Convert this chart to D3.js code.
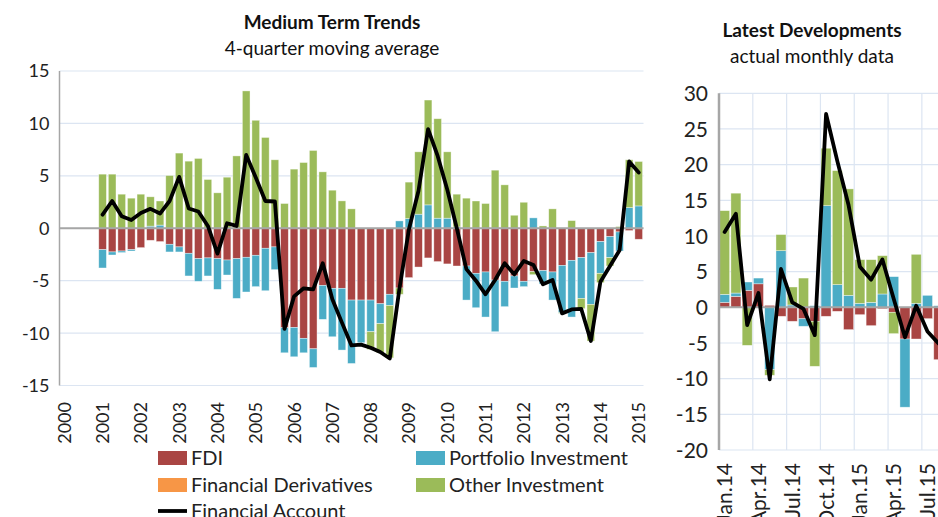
<!DOCTYPE html>
<html>
<head>
<meta charset="utf-8">
<script src="https://cdn.jsdelivr.net/npm/d3@7"></script>
<style>
    body { margin: 0; background: #fff; }
    svg { display: block; font-family: Lato, "Open Sans", sans-serif; }
</style>
</head>
<body>
<svg id="chart" width="938" height="517"></svg>
<script>
"use strict";

const SERIES = ["FDI", "Portfolio Investment", "Financial Derivatives", "Other Investment"];
const COLORS = ["#A94543", "#4BACC6", "#F79646", "#9BBB59"];
const LINE_NAME = "Financial Account";

const GRID_COLOR = "#DCE5F2";
const AXIS_COLOR = "#A6A6A6";
const LINE_WIDTH = 3.8;

// ---- Medium term trends: quarterly, 4-quarter moving average ----
const quarters = [
    "2000Q1", "2000Q2", "2000Q3", "2000Q4", "2001Q1", "2001Q2", "2001Q3", "2001Q4",
    "2002Q1", "2002Q2", "2002Q3", "2002Q4", "2003Q1", "2003Q2", "2003Q3", "2003Q4",
    "2004Q1", "2004Q2", "2004Q3", "2004Q4", "2005Q1", "2005Q2", "2005Q3", "2005Q4",
    "2006Q1", "2006Q2", "2006Q3", "2006Q4", "2007Q1", "2007Q2", "2007Q3", "2007Q4",
    "2008Q1", "2008Q2", "2008Q3", "2008Q4", "2009Q1", "2009Q2", "2009Q3", "2009Q4",
    "2010Q1", "2010Q2", "2010Q3", "2010Q4", "2011Q1", "2011Q2", "2011Q3", "2011Q4",
    "2012Q1", "2012Q2", "2012Q3", "2012Q4", "2013Q1", "2013Q2", "2013Q3", "2013Q4",
    "2014Q1", "2014Q2", "2014Q3", "2014Q4", "2015Q1"
];
const yearLabels = ["2000", "2001", "2002", "2003", "2004", "2005", "2006", "2007",
    "2008", "2009", "2010", "2011", "2012", "2013", "2014", "2015"];
const quarterTicks = [-15, -10, -5, 0, 5, 10, 15];

// values from 2001Q1 to 2015Q1
const fdiQ = [-2.04, -2.26, -2.17, -2.04, -1.85, -1.15, -1.27, -1.53, -1.78, -2.39, -2.9, -2.83,
    -2.9, -3.03, -2.9, -2.77, -2.58, -1.91, -1.78, -9.49, -9.46, -10.5, -11.5, -5.45,
    -5.73, -5.73, -6.85, -6.85, -6.85, -7.2, -6.3, -5.7, -4.71, -3.7, -2.83, -3.18,
    -3.4, -3.6, -3.6, -4.3, -4.17, -4.94, -5.06, -4.55, -5.06, -4.14, -4.04, -4.17,
    -3.54, -3.06, -2.8, -2.33, -1.27, -0.8, -0.35, -0.22, -1.05];
const portfolioQ = [-1.75, -0.29, -0.15, -0.13, 0, 0.2, 0.3, -0.73, -0.48, -2.16, -2.16, -1.72,
    -2.93, -1.43, -3.79, -3.31, -2.99, -4.05, -2.17, -2.39, -2.8, -1.38, -1.78, -3.24,
    -4.62, -5.89, -6.05, -4.07, -3.02, -1.9, -1.06, 0.7, 0.92, 1.34, 2.23, 0.96,
    0.96, 0.13, -3.25, -3.28, -4.3, -4.93, -2.42, -1.15, -0.51, 0.99, -1.28, -2.68,
    -4.52, -5.41, -3.89, -4.93, -3.03, -2.0, -1.82, 1.97, 2.13];
const derivativesQ = [0, 0, 0, 0, 0, 0, 0, 0, 0, 0, 0, 0, 0, 0, 0, 0, 0, 0, 0, 0, 0, 0, 0, 0,
    0, 0, 0, 0, 0, 0, 0, 0, 0, 0, 0, 0, 0, 0, 0, 0, 0, 0, 0, 0, 0, 0, 0, 0, 0, 0, 0, 0,
    0, 0, 0, 0, 0];
const otherQ = [5.16, 5.16, 3.25, 2.87, 3.25, 2.8, 2.3, 5.03, 7.17, 6.4, 6.66, 4.65,
    3.38, 4.87, 6.9, 13.1, 10.3, 8.66, 6.53, 2.36, 5.64, 6.27, 7.42, 5.38,
    3.63, 2.61, 1.85, 0, -1.69, -2.78, -5.0, -0.6, 3.48, 5.95, 10.0, 9.49,
    6.33, 3.12, 2.87, 2.6, 2.36, 5.54, 4.14, 1.24, 2.48, -0.29, 0.22, 1.85,
    -0.06, 0.73, -0.98, -3.5, -0.89, -0.8, 0.16, 4.56, 4.24];
const accountQ = [1.3, 2.6, 1.15, 0.78, 1.45, 1.85, 1.4, 2.6, 4.9, 1.88, 1.6, 0.22,
    -2.42, 0.48, 0.22, 7.0, 4.84, 2.6, 2.55, -9.6, -6.5, -5.73, -5.83, -3.34,
    -6.78, -9.0, -11.18, -11.1, -11.4, -11.8, -12.42, -5.8, -0.1, 3.57, 9.46, 6.9,
    3.7, 0.0, -3.9, -5.0, -6.3, -4.94, -3.34, -4.4, -3.12, -3.5, -5.35, -4.94,
    -8.12, -7.74, -7.7, -10.76, -5.1, -3.6, -2.1, 6.37, 5.32];

// ---- Latest developments: actual monthly data ----
const months = ["Jan.14", "Feb.14", "Mar.14", "Apr.14", "May.14", "Jun.14", "Jul.14",
    "Aug.14", "Sep.14", "Oct.14", "Nov.14", "Dec.14", "Jan.15", "Feb.15", "Mar.15",
    "Apr.15", "May.15", "Jun.15", "Jul.15", "Aug.15"];
const monthTicks = [-20, -15, -10, -5, 0, 5, 10, 15, 20, 25, 30];
const fdiM = [0.7, 1.54, 2.38, 3.3, 0.28, -1.26, -1.96, -1.6, -1.96, -1.26,
    -0.56, -3.13, -1.03, -2.57, -0.2, -0.7, -4.44, -4.44, -1.59, -7.34];
const portfolioM = [1.12, 0.46, 1.17, 0.8, -8.74, 7.94, 0.33, -1.06, 0.23, 14.25,
    3.18, 1.68, 0.56, 0.7, 1.87, 4.3, -9.56, 0.56, 1.68, 0.23];
const derivativesM = [0, 0, 0, 0, 0, 0, 0, 0, 0, 0, 0, 0, 0, 0, 0, 0, 0, 0, 0, 0];
const otherM = [11.73, 14.0, -5.33, 0, -0.79, 2.26, 2.52, 4.1, -6.31, 8.05,
    15.98, 14.92, 6.12, 5.98, 5.37, -2.99, 0, 6.87, 0, 0];
const accountM = [10.56, 13.1, -2.5, 2.0, -10.1, 5.37, 0.7, -0.23, -3.9, 27.1,
    20.5, 14.3, 5.7, 3.88, 6.7, 1.2, -4.2, 0.23, -3.4, -5.1];

const svg = d3.select("#chart");

/**
 * Builds the rows for the stack layout from the parallel value arrays.
 */
function buildRows(cats, fdi, portfolio, derivatives, other, account) {
    return cats.map(function (c, i) {
        let row = {cat: c, account: account[i]};
        row[SERIES[0]] = fdi[i];
        row[SERIES[1]] = portfolio[i];
        row[SERIES[2]] = derivatives[i];
        row[SERIES[3]] = other[i];
        return row;
    });
}

/**
 * Draws one panel: grid, stacked bars (diverging), the financial account line and the axes.
 */
function drawPanel(p) {
    let g = svg.append("g").attr("class", "panel");
    let x = d3.scaleBand().domain(p.categories).range([p.left, p.right]).paddingInner(p.padding).paddingOuter(p.padding / 2);
    let y = d3.scaleLinear().domain(p.domain).range([p.bottom, p.top]);

    // Horizontal grid lines.
    g.append("g").selectAll("line")
        .data(p.ticks)
        .join("line")
        .attr("x1", p.left)
        .attr("x2", p.right)
        .attr("y1", d => y(d))
        .attr("y2", d => y(d))
        .attr("stroke", GRID_COLOR)
        .attr("stroke-width", 1.2);

    // Vertical grid lines (only for the monthly panel).
    if (p.verticalGrid) {
        g.append("g").selectAll("line")
            .data(p.categories.filter((c, i) => i % 3 === 0 && i > 0))
            .join("line")
            .attr("x1", d => x(d) - x.step() * x.paddingInner() / 2)
            .attr("x2", d => x(d) - x.step() * x.paddingInner() / 2)
            .attr("y1", p.top)
            .attr("y2", p.bottom)
            .attr("stroke", GRID_COLOR)
            .attr("stroke-width", 1.2);
    }

    let stacked = d3.stack().keys(SERIES).offset(d3.stackOffsetDiverging)(p.rows);
    g.append("g").selectAll("g")
        .data(stacked)
        .join("g")
        .attr("fill", (d, i) => COLORS[i])
        .selectAll("rect")
        .data(d => d.filter(s => s[1] !== s[0]))
        .join("rect")
        .attr("x", d => x(d.data.cat))
        .attr("width", x.bandwidth())
        .attr("y", d => y(Math.max(d[0], d[1])))
        .attr("height", d => Math.abs(y(d[0]) - y(d[1])))
        .attr("stroke", "#ffffff")
        .attr("stroke-opacity", 0.55)
        .attr("stroke-width", 0.7);

    // Zero line and value axis line.
    g.append("line")
        .attr("x1", p.left)
        .attr("x2", p.right)
        .attr("y1", y(0))
        .attr("y2", y(0))
        .attr("stroke", AXIS_COLOR)
        .attr("stroke-width", 2);
    g.append("line")
        .attr("x1", p.left)
        .attr("x2", p.left)
        .attr("y1", p.top)
        .attr("y2", p.bottom)
        .attr("stroke", AXIS_COLOR)
        .attr("stroke-width", p.axisWidth);

    // Financial account line.
    let line = d3.line()
        .x(d => x(d.cat) + x.bandwidth() / 2)
        .y(d => y(d.account));
    g.append("path")
        .datum(p.rows)
        .attr("d", line)
        .attr("fill", "none")
        .attr("stroke", "#000")
        .attr("stroke-width", LINE_WIDTH)
        .attr("stroke-linejoin", "round")
        .attr("stroke-linecap", "round");

    // Value labels.
    g.append("g").selectAll("text")
        .data(p.ticks)
        .join("text")
        .attr("x", p.left - p.labelGap)
        .attr("y", d => y(d))
        .attr("dy", "0.36em")
        .attr("text-anchor", "end")
        .attr("font-size", p.fontSize)
        .attr("fill", "#222")
        .text(d => d);

    // Category labels, rotated.
    g.append("g").selectAll("text")
        .data(p.categoryLabels)
        .join("text")
        .attr("transform", d => "translate(" + (x(d.cat) + x.bandwidth() / 2) + "," + p.catLabelY + ") rotate(-90)")
        .attr("dy", "0.36em")
        .attr("text-anchor", "end")
        .attr("font-size", p.fontSize)
        .attr("fill", "#222")
        .text(d => d.label);

    // Titles.
    svg.append("text")
        .attr("x", p.titleX)
        .attr("y", p.titleY)
        .attr("text-anchor", "middle")
        .attr("font-size", 19)
        .attr("font-weight", "bold")
        .attr("fill", "#111")
        .text(p.title);
    svg.append("text")
        .attr("x", p.titleX)
        .attr("y", p.titleY + 26)
        .attr("text-anchor", "middle")
        .attr("font-size", 19)
        .attr("fill", "#111")
        .text(p.subtitle);
}

let qRows = buildRows(quarters.slice(4), fdiQ, portfolioQ, derivativesQ, otherQ, accountQ);
drawPanel({
    categories: quarters,
    rows: qRows,
    left: 59.5, right: 643.5, top: 71, bottom: 385.5,
    padding: 0.2,
    domain: [-15, 15],
    ticks: quarterTicks,
    axisWidth: 1.5,
    labelGap: 10,
    fontSize: 18,
    catLabelY: 402,
    categoryLabels: yearLabels.map((l, i) => ({cat: quarters[i * 4], label: l})),
    title: "Medium Term Trends",
    subtitle: "4-quarter moving average",
    titleX: 332,
    titleY: 29,
    verticalGrid: false
});

let mRows = buildRows(months, fdiM, portfolioM, derivativesM, otherM, accountM);
drawPanel({
    categories: months,
    rows: mRows,
    left: 719, right: 944.4, top: 93.3, bottom: 450,
    padding: 0.11,
    domain: [-20, 30],
    ticks: monthTicks,
    axisWidth: 2.5,
    labelGap: 11,
    fontSize: 21,
    catLabelY: 463,
    categoryLabels: months.filter((m, i) => i % 3 === 0).map(m => ({cat: m, label: m})),
    title: "Latest Developments",
    subtitle: "actual monthly data",
    titleX: 812,
    titleY: 37,
    verticalGrid: true
});

// Legend under the medium term panel.
const legendItems = [
    {name: SERIES[0], color: COLORS[0], x: 158, y: 458},
    {name: SERIES[1], color: COLORS[1], x: 416, y: 458},
    {name: SERIES[2], color: COLORS[2], x: 158, y: 485},
    {name: SERIES[3], color: COLORS[3], x: 416, y: 485},
    {name: LINE_NAME, color: "#000", x: 158, y: 511, line: true}
];
let legend = svg.append("g").attr("class", "legend");
let item = legend.selectAll("g")
    .data(legendItems)
    .join("g")
    .attr("transform", d => "translate(" + d.x + "," + d.y + ")");
item.filter(d => !d.line).append("rect")
    .attr("x", 0)
    .attr("y", -7)
    .attr("width", 29)
    .attr("height", 14)
    .attr("fill", d => d.color);
item.filter(d => d.line).append("line")
    .attr("x1", 0)
    .attr("x2", 29)
    .attr("stroke", "#000")
    .attr("stroke-width", LINE_WIDTH);
item.append("text")
    .attr("x", 33)
    .attr("dy", "0.36em")
    .attr("font-size", 20)
    .attr("fill", "#222")
    .text(d => d.name);
</script>
</body>
</html>
